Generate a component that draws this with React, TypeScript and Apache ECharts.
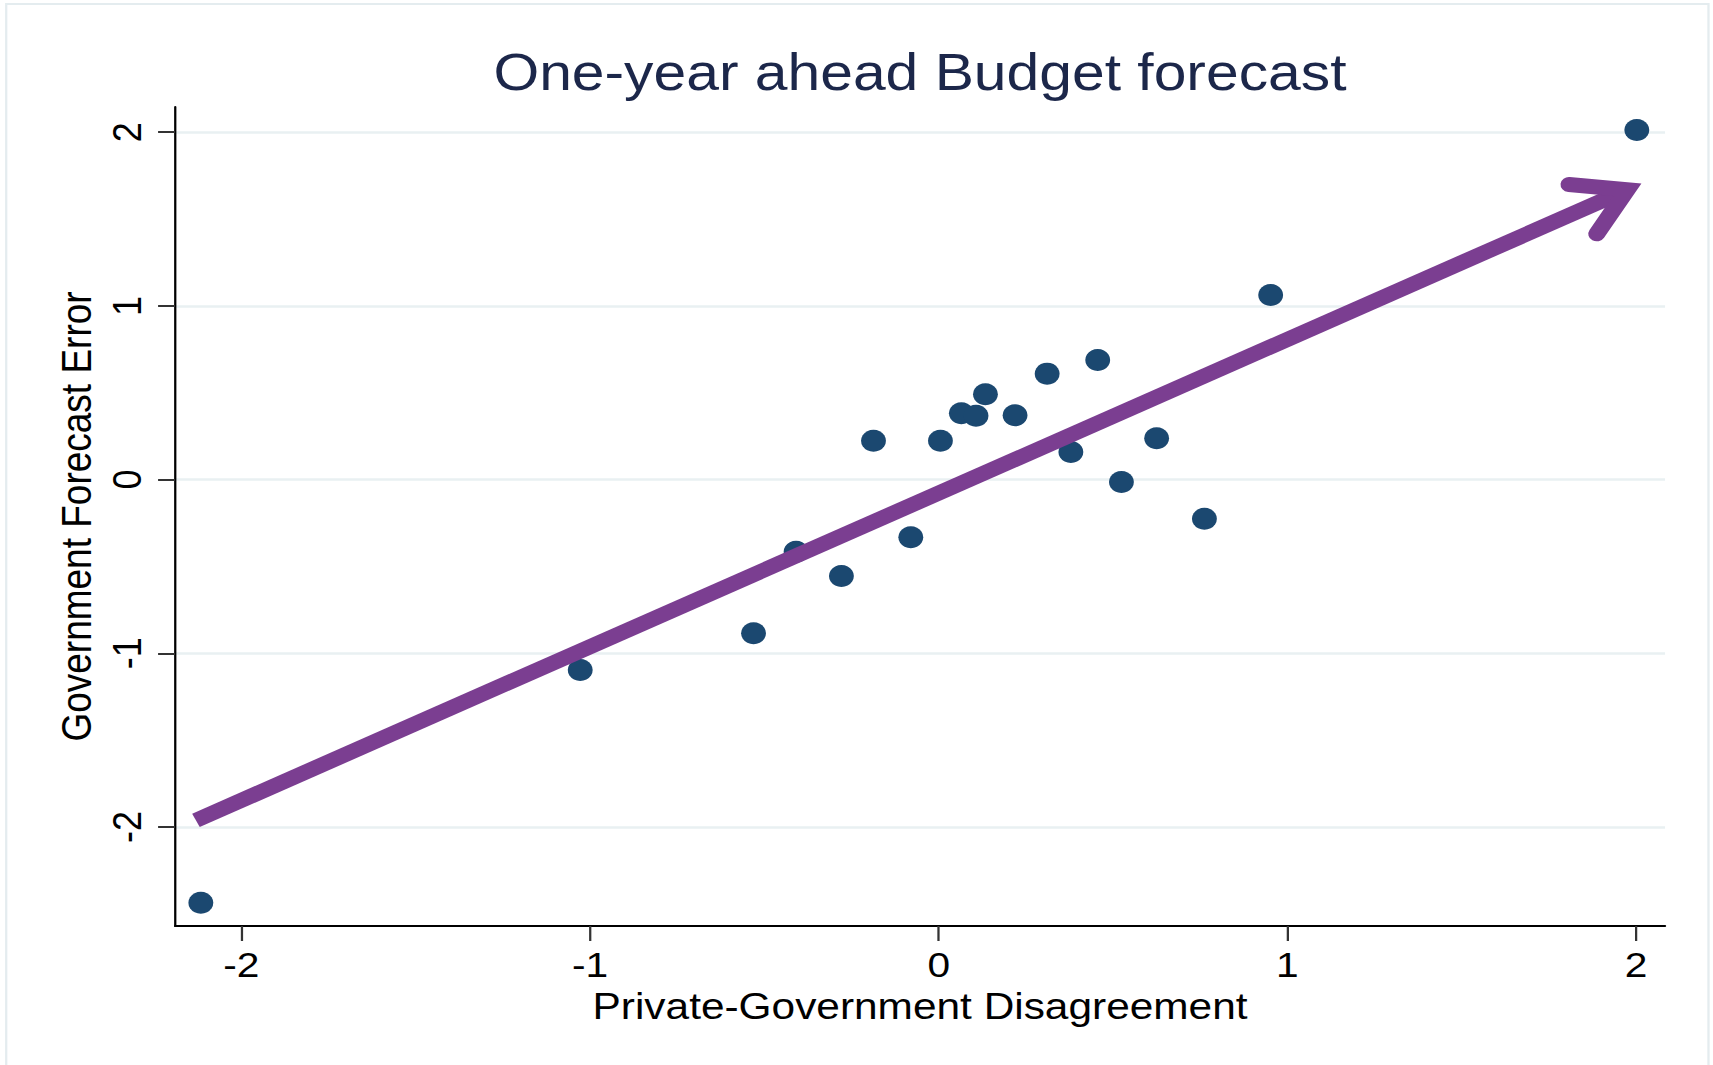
import React, { useEffect, useRef } from "react";
import * as echarts from "echarts";

// ---- data ----
const disagreement = [-2.116, -1.028, -0.531, -0.409, -0.279, -0.187, -0.08, 0.005, 0.065, 0.107, 0.134, 0.219, 0.311, 0.379, 0.456, 0.524, 0.625, 0.762, 0.952, 2.002];
const forecastError = [-2.436, -1.096, -0.885, -0.415, -0.555, 0.224, -0.332, 0.224, 0.382, 0.368, 0.491, 0.37, 0.61, 0.159, 0.689, -0.014, 0.238, -0.225, 1.063, 2.013];
const arrowStart = [-2.13, -1.962];
const arrowEnd = [2.015, 1.705];
const xTicks = [-2, -1, 0, 1, 2];
const yTicks = [-2, -1, 0, 1, 2];
const titleText = "One-year ahead Budget forecast";
const xName = "Private-Government Disagreement";
const yName = "Government Forecast Error";

const FONT = "'Liberation Sans', Arial, Helvetica, sans-serif";
const STRETCH = 1713 / 1515;
const W = 1515;
const H = 1065;

export default function App() {
  const ref = useRef<HTMLDivElement>(null);

  useEffect(() => {
    document.body.style.margin = "0";
    document.body.style.overflow = "hidden";
    if (!ref.current) return;
    const chart = echarts.init(ref.current, undefined, { renderer: "svg" });

    const points = disagreement.map((x, i) => [x, forecastError[i]]);

    const option: any = {
      animation: false,
      backgroundColor: "#ffffff",
      grid: { left: 154.8, right: 42.4, top: 107, bottom: 139, containLabel: false },
      graphic: [
        {
          type: "rect",
          shape: { x: 5.5, y: 4, width: 1505.5, height: 1100 },
          style: { fill: "none", stroke: "#e4ecef", lineWidth: 2 },
          silent: true,
        },
        {
          type: "text",
          x: 813.6,
          y: 46,
          style: {
            text: titleText,
            fontSize: 52,
            fontFamily: FONT,
            fill: "#1c274a",
            textAlign: "center",
            align: "center",
            textVerticalAlign: "top",
            verticalAlign: "top",
          },
        },
      ],
      xAxis: {
        type: "value",
        min: -2.19,
        max: 2.083,
        name: xName,
        nameLocation: "middle",
        nameGap: 58,
        nameTextStyle: { fontSize: 37.5, fontFamily: FONT, color: "#000" },
        axisLine: { show: true, onZero: false, lineStyle: { color: "#000", width: 2 } },
        axisTick: { show: true, length: 15, customValues: xTicks, lineStyle: { color: "#333", width: 2 } },
        axisLabel: { customValues: xTicks, fontSize: 36, fontFamily: FONT, color: "#000", margin: 20 },
        splitLine: { show: false },
      },
      yAxis: {
        type: "value",
        min: -2.57,
        max: 2.145,
        name: yName,
        nameLocation: "middle",
        nameRotate: 90,
        nameGap: 68,
        nameTextStyle: { fontSize: 37, fontFamily: FONT, color: "#000" },
        axisLine: { show: true, onZero: false, lineStyle: { color: "#000", width: 2 } },
        axisTick: { show: true, length: 15, customValues: yTicks, lineStyle: { color: "#333", width: 2 } },
        axisLabel: { customValues: yTicks, rotate: 90, fontSize: 36, fontFamily: FONT, color: "#000", margin: 25 },
        splitLine: { show: true, lineStyle: { color: "#e9f0f2", width: 2.5 } },
      },
      series: [
        {
          type: "scatter",
          data: points,
          symbol: "circle",
          symbolSize: 22,
          itemStyle: { color: "#1b4870", opacity: 1 },
          z: 2,
        },
        {
          type: "custom",
          data: [[arrowStart[0], arrowStart[1], arrowEnd[0], arrowEnd[1]]],
          encode: { x: [0, 2], y: [1, 3] },
          z: 5,
          renderItem: (params: any, api: any) => {
            const p0 = api.coord([api.value(0), api.value(1)]);
            const p1 = api.coord([api.value(2), api.value(3)]);
            const ang = Math.atan2(p1[1] - p0[1], p1[0] - p0[0]);
            const back = ang + Math.PI;
            const L = 64;
            const da = (25.5 * Math.PI) / 180;
            const w1 = [p1[0] + L * Math.cos(back + da), p1[1] + L * Math.sin(back + da)];
            const w2 = [p1[0] + L * Math.cos(back - da), p1[1] + L * Math.sin(back - da)];
            const inset = 14;
            const v = [p1[0] + inset * Math.cos(back), p1[1] + inset * Math.sin(back)];
            const color = "#7b3e91";
            return {
              type: "group",
              children: [
                {
                  type: "line",
                  shape: { x1: p0[0], y1: p0[1], x2: v[0], y2: v[1] },
                  style: { stroke: color, lineWidth: 15, lineCap: "butt" },
                },
                {
                  type: "polyline",
                  shape: { points: [w1, v, w2] },
                  style: { stroke: color, fill: null, lineWidth: 15, lineCap: "round", lineJoin: "miter", miterLimit: 10 },
                },
              ],
            };
          },
        },
      ],
    };

    chart.setOption(option);
    return () => chart.dispose();
  }, []);

  return (
    <div
      ref={ref}
      style={{
        position: "absolute",
        left: 0,
        top: 0,
        width: W,
        height: H,
        transform: `scaleX(${STRETCH})`,
        transformOrigin: "0 0",
      }}
    />
  );
}
